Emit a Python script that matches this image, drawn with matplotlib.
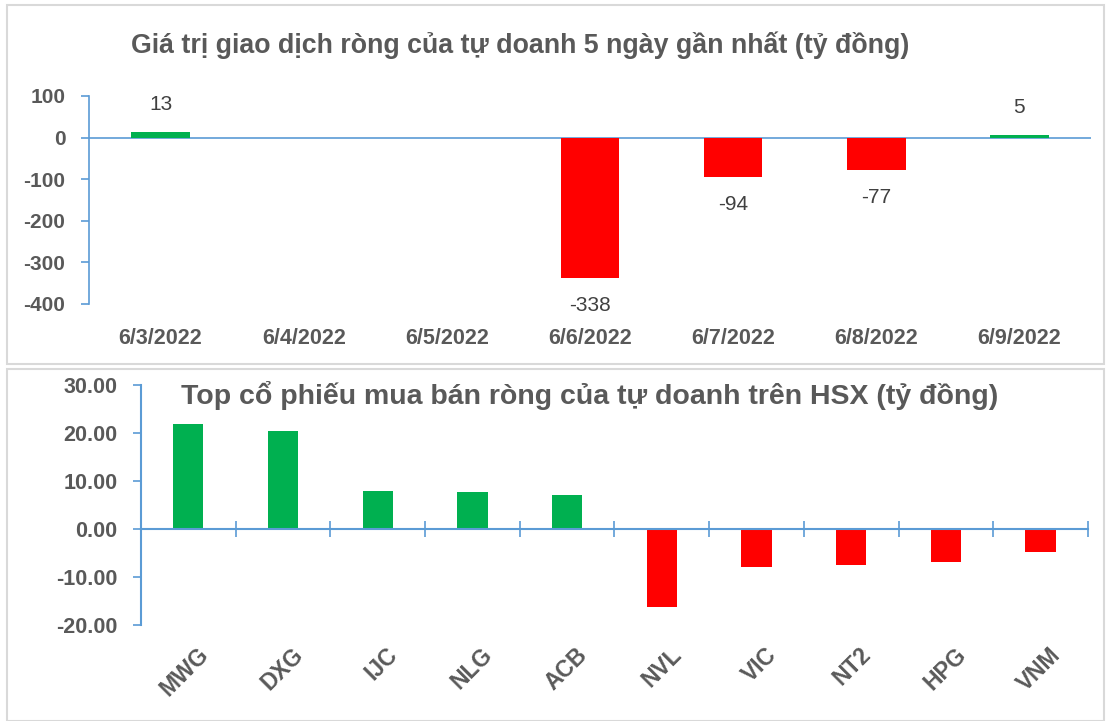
import matplotlib.pyplot as plt
from matplotlib.patches import Rectangle
import numpy as np

plt.rcParams['font.family'] = ['Liberation Sans', 'DejaVu Sans']
plt.rcParams['axes.unicode_minus'] = False

# Data
days = ['6/3/2022', '6/4/2022', '6/5/2022', '6/6/2022', '6/7/2022', '6/8/2022', '6/9/2022']
day_values = [13, None, None, -338, -94, -77, 5]

stocks = ['MWG', 'DXG', 'IJC', 'NLG', 'ACB', 'NVL', 'VIC', 'NT2', 'HPG', 'VNM']
stock_values = [21.8, 20.5, 7.9, 7.7, 7.0, -16.3, -8.0, -7.4, -6.8, -4.8]

GREEN = '#00B050'
RED = '#FF0000'
AXIS_BLUE = '#5B9BD5'
TEXT_GREY = '#595959'
LABEL_GREY = '#404040'
BORDER = '#D9D9D9'

fig = plt.figure(figsize=(11.11, 7.21), dpi=100)

# panel borders
fig.patches.append(Rectangle((0.006, 1 - 364 / 721), 0.988, 359 / 721, transform=fig.transFigure,
                             fill=False, edgecolor=BORDER, linewidth=1.5))
fig.patches.append(Rectangle((0.006, 0.0), 0.988, 1 - 369 / 721, transform=fig.transFigure,
                             fill=False, edgecolor=BORDER, linewidth=1.5))

# ---------- top chart ----------
ax1 = fig.add_axes([0.0801, 0.5784, 0.9019, 0.2885])
x1 = np.arange(len(days))
vals1 = [v if v is not None else 0 for v in day_values]
colors1 = [GREEN if v >= 0 else RED for v in vals1]
ax1.bar(x1, vals1, width=0.41, color=colors1, zorder=2)
for xi, v in zip(x1, day_values):
    if v is None:
        continue
    off = 20 if v >= 0 else -20
    ax1.annotate(str(v), xy=(xi, v), xytext=(0, off), textcoords='offset points',
                 ha='center', va='center', fontsize=15, color=LABEL_GREY)
ax1.axhline(0, color=AXIS_BLUE, linewidth=1.2, zorder=1)
ax1.set_xlim(-0.5, len(days) - 0.5)
ax1.set_ylim(-400, 100)
ax1.set_yticks([100, 0, -100, -200, -300, -400])
ax1.set_xticks(x1)
ax1.set_xticklabels(days)
for s in ['top', 'right', 'bottom']:
    ax1.spines[s].set_visible(False)
ax1.spines['left'].set_color(AXIS_BLUE)
ax1.spines['left'].set_linewidth(1.2)
ax1.tick_params(axis='y', colors=AXIS_BLUE, length=6, width=1.2, pad=11,
                labelcolor=TEXT_GREY, labelsize=15)
ax1.tick_params(axis='x', length=0, pad=17, labelcolor=TEXT_GREY, labelsize=15.5)
for lab in ax1.get_xticklabels() + ax1.get_yticklabels():
    lab.set_fontweight('bold')
fig.text(0.468, 1 - 45 / 721, 'Giá trị giao dịch ròng của tự doanh 5 ngày gần nhất (tỷ đồng)',
         ha='center', va='center', fontsize=19.3, fontweight='bold', color=TEXT_GREY)

# ---------- bottom chart ----------
ax2 = fig.add_axes([0.1269, 0.1331, 0.8524, 0.3329])
x2 = np.arange(len(stocks))
colors2 = [GREEN if v >= 0 else RED for v in stock_values]
ax2.bar(x2, stock_values, width=0.32, color=colors2, zorder=2)
ax2.set_xlim(-0.5, len(stocks) - 0.5)
ax2.set_ylim(-20, 30)
yt = [30, 20, 10, 0, -10, -20]
ax2.set_yticks(yt)
ax2.set_yticklabels([f'{t:.2f}' for t in yt])
ax2.spines['bottom'].set_position(('data', 0))
ax2.spines['bottom'].set_color(AXIS_BLUE)
ax2.spines['bottom'].set_linewidth(1.5)
ax2.spines['left'].set_color(AXIS_BLUE)
ax2.spines['left'].set_linewidth(1.5)
for s in ['top', 'right']:
    ax2.spines[s].set_visible(False)
ax2.tick_params(axis='y', colors=AXIS_BLUE, length=6, width=1.2, pad=11,
                labelcolor=TEXT_GREY, labelsize=15.5)
ax2.set_xticks(x2)
ax2.tick_params(axis='x', which='major', length=0, labelbottom=False)
ax2.set_xticks(np.arange(0.5, len(stocks)), minor=True)
ax2.tick_params(axis='x', which='minor', direction='inout', length=11, width=1.2, colors=AXIS_BLUE)
for lab in ax2.get_yticklabels():
    lab.set_fontweight('bold')
for xi, name in zip(x2, stocks):
    ax2.annotate(name, xy=(xi, -20), xytext=(6, -13), textcoords='offset points',
                 rotation=45, rotation_mode='anchor', ha='right', va='top',
                 fontsize=16.5, fontweight='bold', color=TEXT_GREY)
fig.text(0.531, 1 - 395 / 721, 'Top cổ phiếu mua bán ròng của tự doanh trên HSX (tỷ đồng)',
         ha='center', va='center', fontsize=20.5, fontweight='bold', color=TEXT_GREY)

fig.savefig('out.png', dpi=100)
